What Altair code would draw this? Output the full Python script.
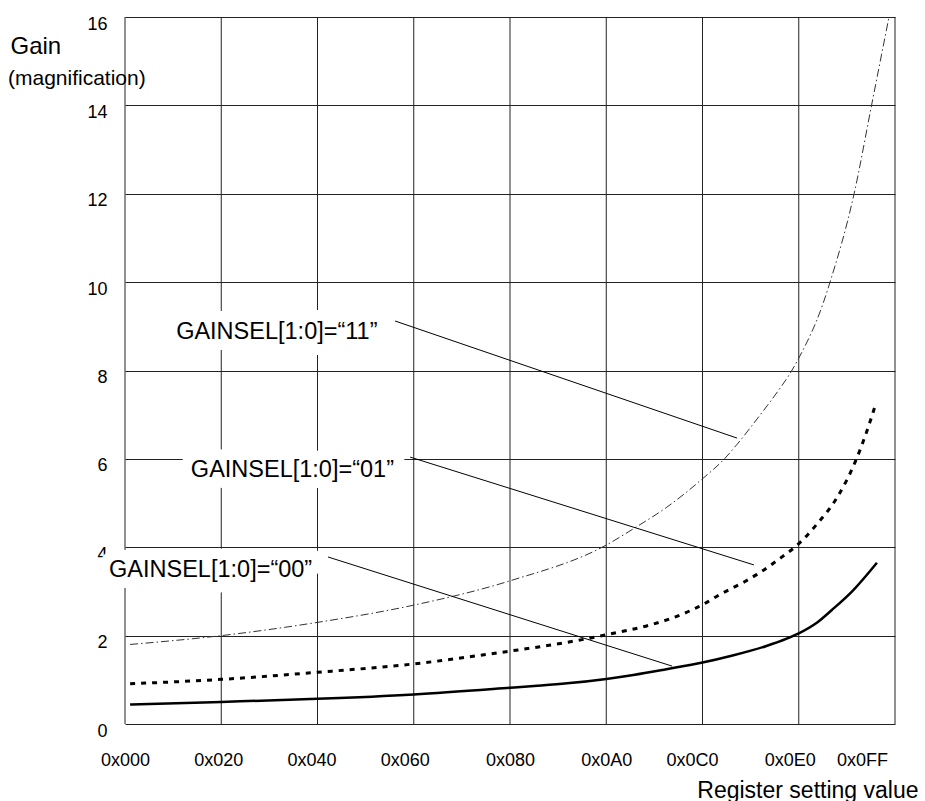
import json
import altair as alt
import pandas as pd

FONT = "Liberation Sans"

# ---- series (x in register units, gain in magnification) ----
x_00 = [1.7, 32, 64, 96, 128, 136, 147, 160, 169, 180, 192, 202, 213, 220, 224, 230, 235, 242, 250]
g_00 = [0.44, 0.50, 0.57, 0.67, 0.82, 0.86, 0.92, 1.02, 1.11, 1.24, 1.39, 1.55, 1.76, 1.93, 2.05, 2.29, 2.58, 3.02, 3.65]

x_01 = [1.7, 32, 64, 96, 128, 141, 152, 160, 174.5, 182, 192, 198, 206, 210, 218, 224, 230, 236.7, 242.7, 246, 249.4]
g_01 = [0.91, 1.01, 1.17, 1.36, 1.65, 1.78, 1.91, 2.02, 2.24, 2.40, 2.70, 2.94, 3.22, 3.38, 3.76, 4.08, 4.52, 5.12, 5.92, 6.50, 7.20]

x_11 = [1.7, 32, 64, 96, 128, 160, 170, 180, 192, 199, 203.5, 211, 218, 221, 224, 232, 234.4, 242.4, 248.2, 254]
g_11 = [1.80, 2.00, 2.30, 2.69, 3.24, 4.05, 4.46, 4.90, 5.55, 5.98, 6.33, 6.98, 7.62, 7.92, 8.28, 9.50, 10.0, 12.0, 14.0, 16.0]

# ---- axes ----
grid_x = [0, 32, 64, 96, 128, 160, 192, 224, 256]
y_ticks = [0, 2, 4, 6, 8, 10, 12, 14, 16]
x_tick_pos = [0, 31, 62, 93, 128, 160, 188.5, 221, 245]
x_tick_labels = ["0x000", "0x020", "0x040", "0x060", "0x080", "0x0A0", "0x0C0", "0x0E0", "0x0FF"]

# ---- annotations ----
ann_text = ["GAINSEL[1:0]=\u201c11\u201d", "GAINSEL[1:0]=\u201c01\u201d", "GAINSEL[1:0]=\u201c00\u201d"]
ann_x = [17.0, 21.9, -5.3]
ann_y = [8.71, 5.59, 3.33]
lead_x1 = [89.8, 94.8, 67.5]
lead_y1 = [9.12, 6.04, 3.78]
lead_x2 = [203.5, 209.1, 181.9]
lead_y2 = [6.47, 3.60, 1.31]

xs = alt.Scale(domain=[0, 256], nice=False, zero=False)
ys = alt.Scale(domain=[0, 16], nice=False)

label_expr = "%s[indexof(%s, datum.value)]" % (json.dumps(x_tick_labels), json.dumps(x_tick_pos))

x_axis = alt.Axis(values=x_tick_pos, labelExpr=label_expr, grid=False, ticks=False, tickSize=0,
                  domain=False, labelFontSize=18, labelFont=FONT, labelColor="black",
                  labelPadding=36, labelBaseline="middle", labelFlush=False, labelOverlap=False,
                  title="Register setting value", titleX=793, titleY=73, titleAlign="right",
                  titleBaseline="alphabetic", titleFontSize=23, titleFont=FONT,
                  titleFontWeight="normal", titleColor="black", zindex=0)
y_axis = alt.Axis(values=y_ticks, grid=True, gridColor="#222", gridWidth=1, ticks=False, tickSize=0,
                  domain=False, labelFontSize=18, labelFont=FONT, labelColor="black",
                  labelPadding=18, labelOffset=7, labelOverlap=False,
                  title="Gain", titleAngle=0, titleAlign="left", titleBaseline="alphabetic",
                  titleX=-115, titleY=36, titleFontSize=24, titleFont=FONT,
                  titleFontWeight="normal", titleColor="black", zindex=0)

def series(xv, gv):
    return pd.DataFrame({"x": xv, "g": gv})

solid = alt.Chart(series(x_00, g_00)).mark_line(color="black", strokeWidth=2.5, interpolate="monotone").encode(
    x=alt.X("x:Q", scale=xs, axis=x_axis), y=alt.Y("g:Q", scale=ys, axis=y_axis))
dashed = alt.Chart(series(x_01, g_01)).mark_line(color="black", strokeWidth=3, strokeDash=[5, 6],
                                                 interpolate="monotone").encode(
    x=alt.X("x:Q", scale=xs), y=alt.Y("g:Q", scale=ys))
dashdot = alt.Chart(series(x_11, g_11)).mark_line(color="#333", strokeWidth=1, strokeDash=[8, 3, 1.5, 3],
                                                  interpolate="monotone").encode(
    x=alt.X("x:Q", scale=xs), y=alt.Y("g:Q", scale=ys))

vgrid = alt.Chart(pd.DataFrame({"gx": grid_x})).mark_rule(color="#222", strokeWidth=1).encode(
    x=alt.X("gx:Q", scale=xs))

lead_df = pd.DataFrame({"x1": lead_x1, "y1": lead_y1, "x2": lead_x2, "y2": lead_y2})
leaders = alt.Chart(lead_df).mark_rule(color="black", strokeWidth=1).encode(
    x=alt.X("x1:Q", scale=xs), y=alt.Y("y1:Q", scale=ys), x2="x2:Q", y2="y2:Q")

ann_df = pd.DataFrame({"t": ann_text, "x": ann_x, "y": ann_y})
halo = alt.Chart(ann_df).mark_text(align="left", baseline="alphabetic", font=FONT, fontSize=23.5,
                                   stroke="white", strokeWidth=22, strokeJoin="round", fill="white").encode(
    x=alt.X("x:Q", scale=xs), y=alt.Y("y:Q", scale=ys), text="t:N")
ann = alt.Chart(ann_df).mark_text(align="left", baseline="alphabetic", font=FONT, fontSize=23.5,
                                  color="black").encode(
    x=alt.X("x:Q", scale=xs), y=alt.Y("y:Q", scale=ys), text="t:N")

sub = alt.Chart(pd.DataFrame({"t": ["(magnification)"]})).mark_text(
    align="left", baseline="alphabetic", font=FONT, fontSize=21, color="black").encode(
    x=alt.value(-117), y=alt.value(68), text="t:N")

chart = alt.layer(vgrid, solid, dashed, dashdot, leaders, halo, ann, sub).properties(
    width=770, height=707,
    autosize=alt.AutoSizeParams(type="none"),
    padding={"left": 125, "top": 17, "right": 30, "bottom": 77},
    background="white",
).configure_view(stroke=None)

chart.save("out.html", embed_options={"renderer": "svg", "actions": False})
